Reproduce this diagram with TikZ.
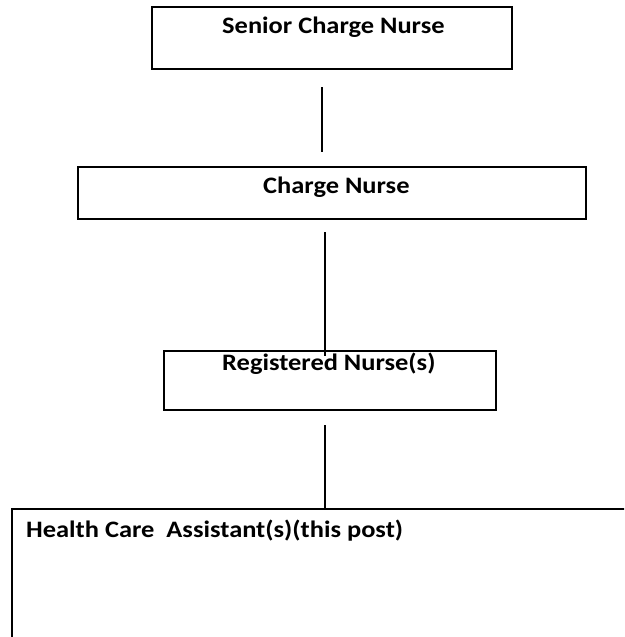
\documentclass[tikz,border=0pt]{standalone}
\usepackage{fontspec}
\setmainfont{Carlito}[FakeStretch=1.12]
\begin{document}
\begin{tikzpicture}[x=1pt,y=-1pt,
  box/.style={draw, line width=2pt, rectangle, inner sep=0pt},
  conn/.style={line width=1.2pt},
  lbl/.style={font=\fontsize{23.6}{27}\selectfont\bfseries, inner sep=0pt, anchor=base west}]
\useasboundingbox (0,0) rectangle (624,637);
\fill[white] (0,0) rectangle (624,637);
\clip (0,0) rectangle (624,637);
% boxes
\node[box, minimum width=360pt, minimum height=62pt] (b1) at (332,38) {};
\node[box, minimum width=508pt, minimum height=52pt] (b2) at (332,193) {};
\node[box, minimum width=332pt, minimum height=59pt] (b3) at (330,380.5) {};
\node[box, minimum width=628pt, minimum height=151pt] (b4) at (326,584.5) {};
% labels
\node[lbl] (t1) at (222,33) {Senior Charge Nurse};
\node[lbl] (t2) at (263,193) {Charge Nurse};
\node[lbl] (t3) at (222,370) {Registered Nurse(s)};
\node[lbl] (t4) at (26,537) {Health Care\ \ Assistant(s)(this post)};
% connectors
\coordinate (c1a) at (322,87);
\coordinate (c1b) at (322,152);
\coordinate (c2a) at (325,232);
\coordinate (c2b) at (325,356);
\coordinate (c3a) at (325,425);
\draw[conn] (c1a) -- (c1b);
\draw[conn] (c2a) -- (c2b);
\draw[conn] (c3a) -- (c3a |- b4.north);
\end{tikzpicture}
\end{document}
